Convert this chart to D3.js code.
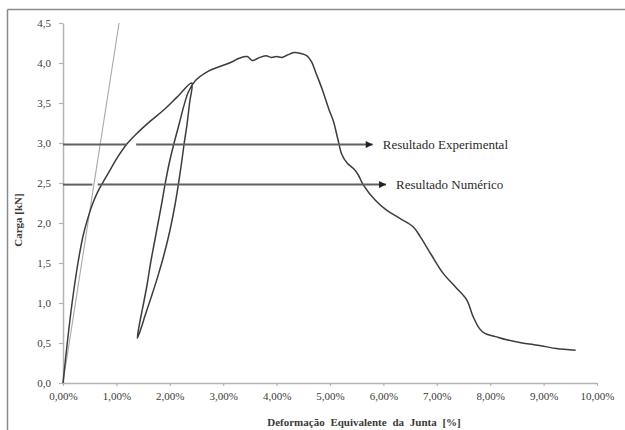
<!DOCTYPE html>
<html>
<head>
<meta charset="utf-8">
<script src="https://cdn.jsdelivr.net/npm/d3@7/dist/d3.min.js"></script>
<style>
  html, body { margin: 0; padding: 0; background: #fff; }
  svg { display: block; }
  text { font-family: "Liberation Serif", "Times New Roman", Tinos, "DejaVu Serif", "Noto Serif", serif; }
</style>
</head>
<body>
<svg id="chart" width="625" height="430"></svg>
<script>
// ---- data ----
const xTicks = [0, 1, 2, 3, 4, 5, 6, 7, 8, 9, 10];          // Deformação [%]
const yTicks = [0, 0.5, 1, 1.5, 2, 2.5, 3, 3.5, 4, 4.5];   // Carga [kN]

// Experimental curve (load – unload – reload – softening), x in %, y in kN
const curveX = [0, 0.08, 0.17, 0.28, 0.38, 0.47, 0.56, 0.65, 0.75, 0.88, 1.02, 1.2, 1.4, 1.63, 1.88, 2.13, 2.41,
  2.37, 2.32, 2.27, 2.22, 2.16, 2.09, 2.0, 1.89, 1.77, 1.65, 1.54, 1.46, 1.39,
  1.45, 1.51, 1.58, 1.64, 1.71, 1.78, 1.85, 1.91, 1.99, 2.08, 2.18, 2.27, 2.35, 2.48, 2.7, 2.95, 3.15, 3.3, 3.45, 3.55, 3.65, 3.8, 3.9, 4.0, 4.1, 4.2, 4.33, 4.45, 4.57,
  4.65, 4.74, 4.86, 4.98, 5.06, 5.15, 5.22, 5.32, 5.44, 5.53, 5.62, 5.84, 6.06, 6.3, 6.56, 6.69, 6.9, 7.12, 7.35, 7.56, 7.68, 7.8, 7.9, 8.1, 8.31, 8.6, 8.81, 9.0, 9.24, 9.6];
const curveY = [0, 0.5, 1.0, 1.5, 1.85, 2.07, 2.25, 2.39, 2.51, 2.66, 2.82, 2.99, 3.13, 3.27, 3.41, 3.57, 3.75,
  3.5, 3.22, 3.0, 2.75, 2.48, 2.2, 1.9, 1.6, 1.32, 1.07, 0.85, 0.68, 0.56,
  0.8, 1.0, 1.25, 1.5, 1.75, 2.0, 2.25, 2.48, 2.75, 3.0, 3.25, 3.48, 3.64, 3.78, 3.89, 3.96, 4.01, 4.06, 4.08, 4.03, 4.06, 4.09, 4.07, 4.08, 4.07, 4.1, 4.13, 4.12, 4.09,
  4.02, 3.87, 3.66, 3.42, 3.28, 3.04, 2.86, 2.75, 2.68, 2.6, 2.48, 2.29, 2.16, 2.06, 1.95, 1.83, 1.6, 1.37, 1.2, 1.04, 0.83, 0.68, 0.62, 0.58, 0.54, 0.5, 0.48, 0.46, 0.43, 0.41];

// Initial stiffness line
const stiffX = [0, 1.05];
const stiffY = [0, 4.5];

// Annotation arrows: [x start, x end] segments at level arrowY; last segment carries the arrowhead
const arrowLabels = ["Resultado Experimental", "Resultado Numérico"];
const arrowY = [2.98, 2.48];
const arrowSegs = [
  [[0, 1.2], [1.37, 5.8]],
  [[0, 0.55], [0.65, 6.05]]
];

// ---- layout ----
const svg = d3.select("#chart");
const x = d3.scaleLinear().domain([0, 10]).range([63, 597]);
const y = d3.scaleLinear().domain([0, 4.5]).range([383, 23]);

const loc = d3.formatLocale({decimal: ",", thousands: ".", grouping: [3], currency: ["", ""]});
const fy = loc.format(".1f");
const fx = v => loc.format(".2f")(v) + "%";

const serif = "\"Liberation Serif\", \"Times New Roman\", Tinos, \"DejaVu Serif\", serif";
const textCol = "#3a3a3a";
const axisCol = "#b4b4b4";

// outer frame (top and left edges)
svg.append("line").attr("x1", 7.5).attr("x2", 625).attr("y1", 9.5).attr("y2", 9.5)
  .attr("stroke", "#8a8a8a").attr("stroke-width", 1.5);
svg.append("line").attr("x1", 7.5).attr("x2", 7.5).attr("y1", 9.5).attr("y2", 430)
  .attr("stroke", "#8a8a8a").attr("stroke-width", 1.5);

// axes
const gx = svg.append("g").attr("transform", `translate(0,${y(0)})`)
  .call(d3.axisBottom(x).tickValues(xTicks).tickFormat(fx).tickSize(3).tickSizeOuter(0).tickPadding(6));
const gy = svg.append("g").attr("transform", `translate(${x(0)},0)`)
  .call(d3.axisLeft(y).tickValues(yTicks).tickFormat(fy).tickSize(4).tickSizeOuter(0).tickPadding(8));
[gx, gy].forEach(g => {
  g.attr("font-family", null);
  g.select(".domain").attr("stroke", axisCol).attr("stroke-width", 1.5);
  g.selectAll(".tick line").attr("stroke", axisCol).attr("stroke-width", 1.2);
  g.selectAll(".tick text").attr("fill", textCol).attr("font-family", serif).style("font-size", "11px");
});

// axis titles
svg.append("text").attr("x", 364).attr("y", 426).attr("text-anchor", "middle")
  .attr("font-family", serif).style("font-size", "11px").style("font-weight", "bold")
  .style("word-spacing", "3px").attr("fill", textCol)
  .text("Deformação Equivalente da Junta [%]");
svg.append("text").attr("transform", `translate(22,220) rotate(-90)`).attr("text-anchor", "middle")
  .attr("font-family", serif).style("font-size", "11px").style("font-weight", "bold")
  .attr("fill", textCol).text("Carga [kN]");

// stiffness line
const straight = d3.line().x(d => x(d[0])).y(d => y(d[1]));
svg.append("path").datum(d3.zip(stiffX, stiffY)).attr("d", straight)
  .attr("fill", "none").attr("stroke", "#a8a8a8").attr("stroke-width", 1.1);

// experimental curve
const smooth = d3.line().x(d => x(d[0])).y(d => y(d[1])).curve(d3.curveCatmullRom.alpha(0.5));
svg.append("path").datum(d3.zip(curveX, curveY)).attr("d", smooth)
  .attr("fill", "none").attr("stroke", "#3c3c3c").attr("stroke-width", 1.5)
  .attr("stroke-linejoin", "round");

// arrowhead marker
svg.append("defs").append("marker").attr("id", "ah")
  .attr("viewBox", "0 0 10 10").attr("refX", 10).attr("refY", 5)
  .attr("markerWidth", 9).attr("markerHeight", 7).attr("markerUnits", "userSpaceOnUse")
  .attr("orient", "auto")
  .append("path").attr("d", "M0,0 L10,5 L0,10 Z").attr("fill", "#222");

arrowSegs.forEach((segs, i) => {
  segs.forEach((s, j) => {
    const l = svg.append("line")
      .attr("x1", x(s[0])).attr("x2", x(s[1]))
      .attr("y1", y(arrowY[i])).attr("y2", y(arrowY[i]))
      .attr("stroke", "#606060").attr("stroke-width", 2);
    if (j === segs.length - 1) l.attr("marker-end", "url(#ah)");
  });
  const last = segs[segs.length - 1];
  svg.append("text").attr("x", x(last[1]) + 10).attr("y", y(arrowY[i]) + 4.5)
    .attr("font-family", serif).style("font-size", "13px").attr("fill", "#2a2a2a")
    .text(arrowLabels[i]);
});
</script>
</body>
</html>
